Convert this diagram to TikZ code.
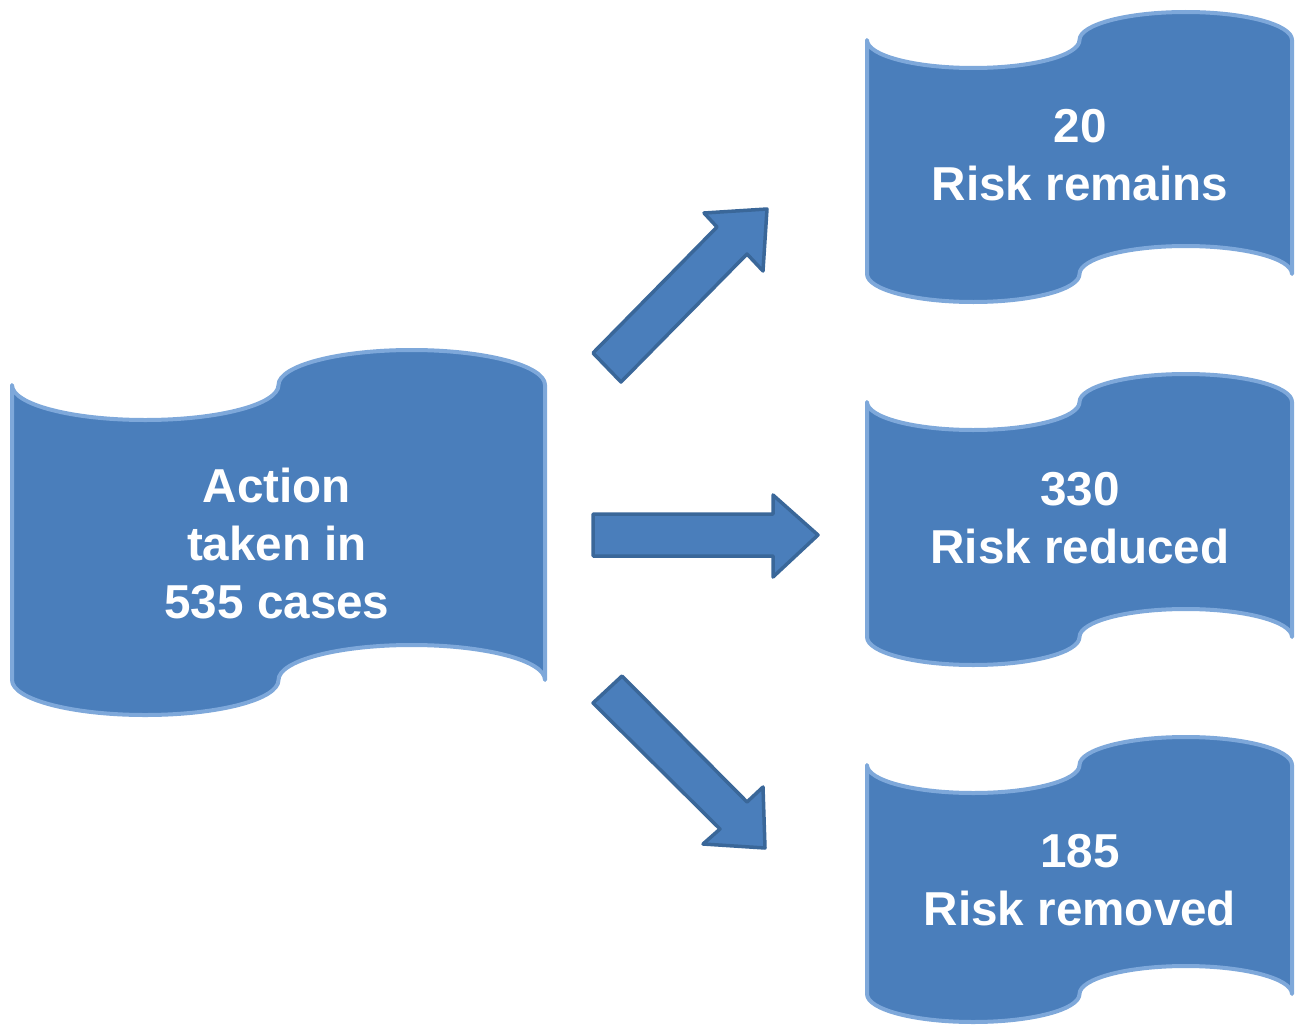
\documentclass[tikz,border=0pt]{standalone}
\usepackage{fontspec}
\setmainfont{Liberation Sans}
\definecolor{boxfill}{HTML}{4A7EBB}
\definecolor{boxedge}{HTML}{7EA8DA}
\definecolor{arrowedge}{HTML}{3A6799}
\tikzset{
  wave/.style={fill=boxfill, draw=boxedge, line width=4pt, line join=round},
  blockarrow/.style={fill=boxfill, draw=arrowedge, line width=3.5pt, line join=round},
  lbl/.style={text=white, font=\fontsize{47.6}{58}\selectfont\bfseries, align=center, inner sep=0pt}
}
\newcommand\wavepath[5]{%
  \pgfmathsetmacro\wq{(#2-#1)/4}%
  \draw[wave] (#1,#3+#5)
    arc[start angle=180,end angle=0,x radius=\wq,y radius=#5]
    arc[start angle=180,end angle=360,x radius=\wq,y radius=#5]
    -- (#2,#4-#5)
    arc[start angle=0,end angle=-180,x radius=\wq,y radius=#5]
    arc[start angle=0,end angle=180,x radius=\wq,y radius=#5]
    -- cycle;}
\begin{document}
\begin{tikzpicture}[x=1pt,y=-1pt]
\useasboundingbox (0,0) rectangle (1295,1025);
% wave boxes
\wavepath{12}{545}{350}{715}{35}
\wavepath{867}{1292}{12}{302}{28}
\wavepath{867}{1292}{374}{665}{28}
\wavepath{867}{1292}{737}{1022}{28}
\node[lbl] (src) at (277,544) {Action\\taken in\\535 cases};
\node[lbl] (r1) at (1080,155) {20\\Risk remains};
\node[lbl] (r2) at (1080,518) {330\\Risk reduced};
\node[lbl] (r3) at (1080,880) {185\\Risk removed};
% block arrows
\draw[blockarrow] (593,353) -- (717,227) -- (704,213) -- (767,209) -- (763,271) -- (747,254) -- (621,382) -- cycle;
\draw[blockarrow] (593,514) -- (773,514) -- (773,495) -- (818,535) -- (773,577) -- (773,556) -- (593,556) -- cycle;
\draw[blockarrow] (622,676) -- (747,802) -- (763,787) -- (765,848) -- (703,844) -- (720,829) -- (593,703) -- cycle;
\end{tikzpicture}
\end{document}
